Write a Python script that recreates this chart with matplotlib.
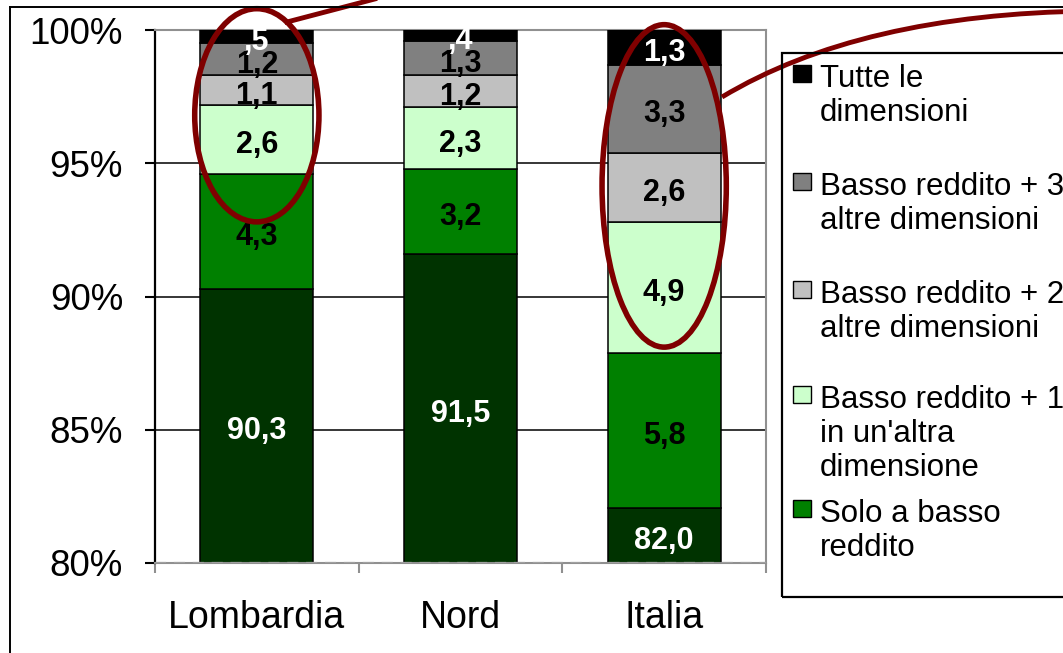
import numpy as np
import matplotlib
matplotlib.use("Agg")
import matplotlib.pyplot as plt
from matplotlib.patches import Ellipse, Rectangle, PathPatch
from matplotlib.path import Path
from matplotlib.lines import Line2D

plt.rcParams['font.family'] = ['Liberation Sans', 'DejaVu Sans']

# Data (percent shares, 100% stacked)
categories = ["Lombardia", "Nord", "Italia"]
solo_dark = [90.3, 91.5, 82.0]          # bottom segment (no legend entry)
solo_basso = [4.3, 3.2, 5.8]
basso_1 = [2.6, 2.3, 4.9]
basso_2 = [1.1, 1.2, 2.6]
basso_3 = [1.2, 1.3, 3.3]
tutte = [0.5, 0.4, 1.3]

series = [solo_dark, solo_basso, basso_1, basso_2, basso_3, tutte]
colors = ["#003300", "#008000", "#CCFFCC", "#C0C0C0", "#808080", "#000000"]
text_colors = ["white", "black", "black", "black", "black", "white"]
legend_labels = ["Tutte le\ndimensioni",
                 "Basso reddito + 3\naltre dimensioni",
                 "Basso reddito + 2\naltre dimensioni",
                 "Basso reddito + 1\nin un'altra\ndimensione",
                 "Solo a basso\nreddito"]
yticks = [80, 85, 90, 95, 100]

W, H = 1063, 653
MAROON = "#7f0000"
YMIN, YMAX = 80, 100
# legend layout: baseline (px from top) of first line of each entry
LEG_BASE = [87, 195, 303, 408, 522]


def fx(x):
    return x / W


def fy(y):
    return 1 - y / H


def fmt(v):
    s = f"{v:.1f}".replace('.', ',')
    if s.startswith('0,'):
        s = s[1:]
    return s


fig = plt.figure(figsize=(W / 100, H / 100), dpi=100)
ax = fig.add_axes([fx(155), fy(563), (766 - 155) / W, (563 - 30) / H])

data = np.array(series)
shares = data / data.sum(axis=0) * 100
x = np.arange(len(categories))
bottom = np.zeros(len(categories))
for vals, raw, col, tcol in zip(shares, data, colors, text_colors):
    ax.bar(x, vals, bottom=bottom, width=0.555, color=col, edgecolor='black',
           linewidth=1.1, zorder=3)
    for xi, b, v, r in zip(x, bottom, vals, raw):
        lo = max(b, YMIN)
        mid = (lo + b + v) / 2
        ax.annotate(fmt(r), (xi, mid), xytext=(0, -4), textcoords='offset points',
                    ha='center', va='center', fontsize=22, fontweight='bold',
                    color=tcol, zorder=4, annotation_clip=False)
    bottom += vals

ax.set_xlim(-0.5, 2.5)
ax.set_ylim(YMIN, YMAX)

# gridlines (black, between the spines)
for t in yticks[1:-1]:
    ax.axhline(t, color='black', linewidth=1.1, zorder=1)

ax.set_yticks(yticks)
ax.set_yticklabels([f"{t}%" for t in yticks], fontsize=26.5)
ax.tick_params(axis='y', length=7, width=1.5, color='black', pad=16)
ax.set_xticks(x)
ax.set_xticklabels(categories, fontsize=27)
ax.tick_params(axis='x', which='major', length=0, pad=27)
ax.set_xticks([-0.5, 0.5, 1.5, 2.5], minor=True)
ax.tick_params(axis='x', which='minor', length=7, width=1.5, color='#909090')

ax.spines['left'].set_color('black')
ax.spines['left'].set_linewidth(1.6)
for s in ['top', 'right', 'bottom']:
    ax.spines[s].set_color('#909090')
    ax.spines[s].set_linewidth(1.5)
ax.spines['bottom'].set_zorder(4)
ax.axhline(YMIN, color='#a0a0a0', linewidth=1.6, linestyle=(0, (5, 3.5)), zorder=5)

# ellipses highlighting the small segments
ax.add_patch(Ellipse((0.0, 96.8), 0.61, 8.0, fill=False, edgecolor=MAROON,
                     linewidth=4, clip_on=False, zorder=6))
ax.add_patch(Ellipse((2.0, 94.15), 0.61, 12.1, fill=False, edgecolor=MAROON,
                     linewidth=4, clip_on=False, zorder=6))

# connector lines running off the figure
fig.add_artist(Line2D([fx(287), fx(390)], [fy(22), fy(-5)], color=MAROON,
                      linewidth=3.5, transform=fig.transFigure))
curve = Path([(fx(722), fy(97)), (fx(860), fy(14)), (fx(1090), fy(11))],
             [Path.MOVETO, Path.CURVE3, Path.CURVE3])
fig.add_artist(PathPatch(curve, fill=False, edgecolor=MAROON, linewidth=3.5,
                         transform=fig.transFigure))

# outer frame (cut at the right and bottom)
fig.add_artist(Line2D([fx(10), fx(10)], [fy(7), fy(660)], color='black',
                      linewidth=1.4, transform=fig.transFigure))
fig.add_artist(Line2D([fx(10), fx(1070)], [fy(7), fy(7)], color='black',
                      linewidth=1.4, transform=fig.transFigure))

# legend box (cut at the right)
fig.add_artist(Rectangle((fx(782), fy(597)), (1100 - 782) / W, (597 - 53) / H,
                         fill=False, edgecolor='black', linewidth=1.6,
                         transform=fig.transFigure))
leg_colors = colors[::-1][:5]
for lab, col, base in zip(legend_labels, leg_colors, LEG_BASE):
    fig.add_artist(Rectangle((fx(793), fy(base - 5)), 18 / W, 17 / H,
                             facecolor=col, edgecolor='black', linewidth=1.0,
                             transform=fig.transFigure))
    fig.text(fx(820), fy(base - 23), lab, fontsize=22.5, va='top', ha='left',
             linespacing=1.18)

fig.savefig("out.png", dpi=100)
